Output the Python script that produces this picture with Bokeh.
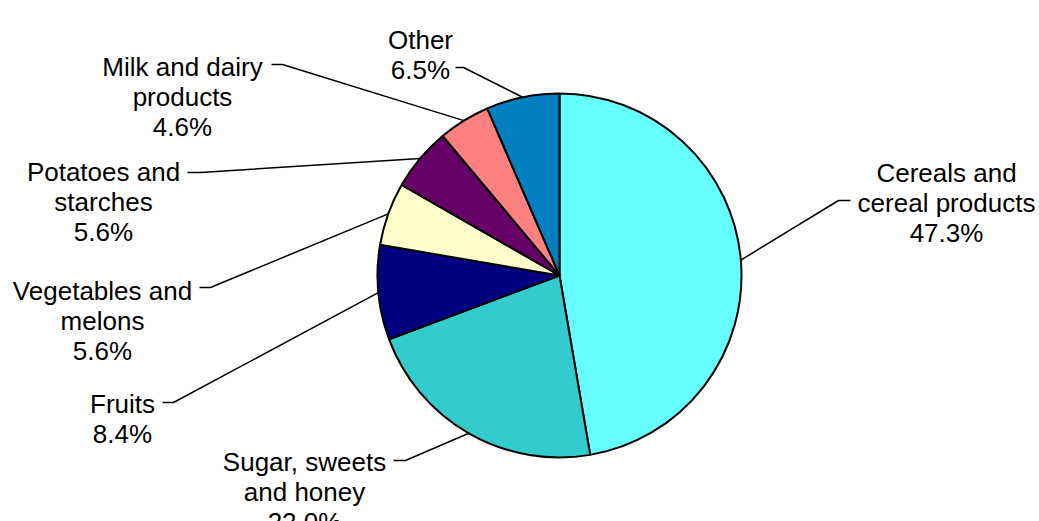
import math
from bokeh.plotting import figure
from bokeh.models import Range1d, ColumnDataSource
from bokeh.core.properties import value
from bokeh.embed import file_html
from bokeh.resources import INLINE

# ---- data ----
categories = ["Cereals and cereal products", "Sugar, sweets and honey", "Fruits",
              "Vegetables and melons", "Potatoes and starches",
              "Milk and dairy products", "Other"]
shares = [47.3, 22.0, 8.4, 5.6, 5.6, 4.6, 6.5]
name_lines = [["Cereals and", "cereal products"], ["Sugar, sweets", "and honey"],
              ["Fruits"], ["Vegetables and", "melons"], ["Potatoes and", "starches"],
              ["Milk and dairy", "products"], ["Other"]]
colors = ["#66FFFF", "#33CCCC", "#000080", "#FFFFCC", "#660066", "#FF8080", "#0080C0"]

# ---- layout (pixels, y measured from top) ----
W, H = 1039, 521
CX, CY, R = 559, 275, 182
LINE_H = 30
label_x = [946, 304, 122, 102, 103, 182, 420]
label_y = [172.7, 461.7, 403.3, 290, 171.7, 66.7, 39]
leader_start_x = [850, 393, 162, 199, 187, 271, 455]
leader_elbow_x = [838, 405, 173, 210, 200, 282, 463]
leader_y = [200, 460, 402, 287, 172, 64, 67]

total = sum(shares)
starts, ends, mids = [], [], []
cum = 0.0
for s in shares:
    a0 = math.pi / 2 - 2 * math.pi * cum / total
    cum += s
    a1 = math.pi / 2 - 2 * math.pi * cum / total
    starts.append(a0)
    ends.append(a1)
    mids.append((a0 + a1) / 2)

cy_data = H - CY
src = ColumnDataSource(dict(x=[CX] * len(shares), y=[cy_data] * len(shares),
                            start=starts, end=ends, color=colors, name=categories))

p = figure(width=W, height=H, x_range=Range1d(0, W), y_range=Range1d(0, H),
           output_backend="svg", toolbar_location=None, min_border=0,
           x_axis_type=None, y_axis_type=None)
p.grid.visible = False
p.outline_line_color = None
p.background_fill_color = "white"
p.border_fill_color = "white"

p.wedge(x="x", y="y", radius=R, start_angle="start", end_angle="end",
        direction="clock", fill_color="color", line_color="black",
        line_width=2, source=src)

# leader lines
xs, ys = [], []
for i, m in enumerate(mids):
    ex = CX + R * math.cos(m)
    ey = cy_data + R * math.sin(m)
    ly = H - leader_y[i]
    xs.append([leader_start_x[i], leader_elbow_x[i], ex])
    ys.append([ly, ly, ey])
p.multi_line(xs=xs, ys=ys, line_color="black", line_width=1.5)

# labels
tx, ty, tt = [], [], []
for i in range(len(categories)):
    lines = name_lines[i] + [f"{shares[i]:.1f}%"]
    for k, ln in enumerate(lines):
        tx.append(label_x[i])
        ty.append(H - (label_y[i] + LINE_H * k))
        tt.append(ln)
p.text(x=tx, y=ty, text=tt, text_align="center", text_baseline="alphabetic",
       text_font=value("Liberation Sans"), text_font_size=value("26px"),
       text_color="black")

open("out.html", "w").write(file_html(p, INLINE))
